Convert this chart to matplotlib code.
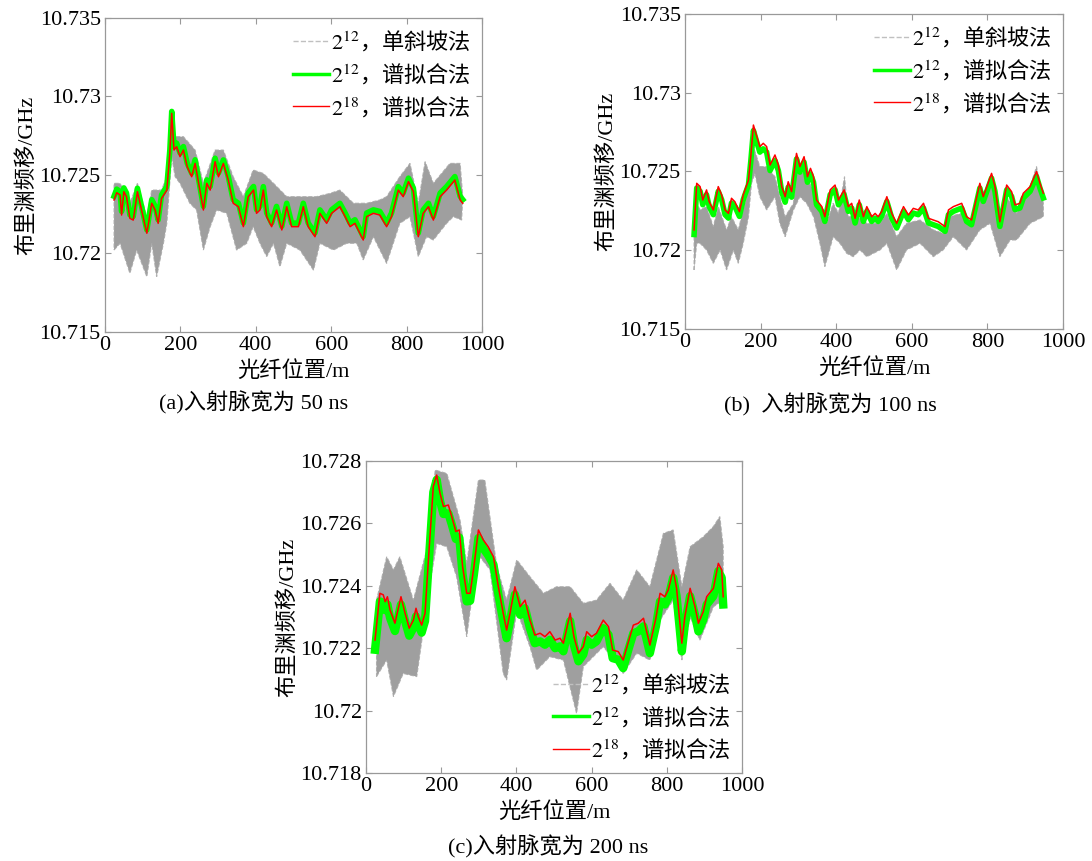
import numpy as np
import matplotlib
matplotlib.use("Agg")
import matplotlib.pyplot as plt
from matplotlib.lines import Line2D

plt.rcParams['font.family'] = ['Liberation Serif', 'Noto Sans CJK SC']
plt.rcParams['mathtext.fontset'] = 'stix'

# ---------------- panel (a): 50 ns ----------------
a_x = [24, 31, 40, 44, 50, 57, 66, 75, 86, 97, 111, 124, 133, 141, 150, 164, 172, 177, 183, 190,
       199, 208, 218, 230, 239, 250, 261, 270, 279, 292, 301, 314, 327, 340, 354, 367, 380, 394, 402, 411,
       420, 429, 442, 455, 469, 482, 495, 513, 526, 539, 557, 570, 588, 601, 623, 637, 650, 663, 685, 694,
       712, 729, 747, 760, 778, 791, 805, 818, 831, 844, 858, 871, 889, 906, 928, 942, 949]
a_red = [10.72341, 10.72387, 10.72373, 10.72245, 10.72394, 10.72362, 10.72224, 10.72213, 10.72394, 10.72277,
         10.72129, 10.72320, 10.72277, 10.72192, 10.72351, 10.72404, 10.72638, 10.72893, 10.72659, 10.72680,
         10.72617, 10.72659, 10.72553, 10.72489, 10.72574, 10.72426, 10.72277, 10.72447, 10.72404, 10.72585,
         10.72489, 10.72574, 10.72468, 10.72320, 10.72298, 10.72171, 10.72362, 10.72404, 10.72256, 10.72277,
         10.72404, 10.72235, 10.72171, 10.72277, 10.72150, 10.72298, 10.72171, 10.72171, 10.72298, 10.72171,
         10.72107, 10.72256, 10.72192, 10.72256, 10.72298, 10.72235, 10.72171, 10.72192, 10.72086, 10.72235,
         10.72256, 10.72245, 10.72171, 10.72235, 10.72404, 10.72362, 10.72458, 10.72394, 10.72107, 10.72256,
         10.72298, 10.72213, 10.72362, 10.72404, 10.72468, 10.72341, 10.72320]
a_green = [10.72365, 10.72410, 10.72395, 10.72268, 10.72418, 10.72385, 10.72246, 10.72236, 10.72416, 10.72300,
           10.72150, 10.72343, 10.72300, 10.72214, 10.72373, 10.72427, 10.72660, 10.72905, 10.72682, 10.72703,
           10.72640, 10.72681, 10.72575, 10.72511, 10.72597, 10.72449, 10.72300, 10.72469, 10.72427, 10.72607,
           10.72512, 10.72596, 10.72490, 10.72343, 10.72320, 10.72194, 10.72385, 10.72427, 10.72279, 10.72300,
           10.72426, 10.72258, 10.72194, 10.72300, 10.72173, 10.72320, 10.72194, 10.72194, 10.72320, 10.72194,
           10.72130, 10.72278, 10.72215, 10.72278, 10.72320, 10.72258, 10.72194, 10.72215, 10.72108, 10.72258,
           10.72278, 10.72268, 10.72194, 10.72258, 10.72426, 10.72385, 10.72480, 10.72416, 10.72130, 10.72278,
           10.72320, 10.72236, 10.72385, 10.72426, 10.72490, 10.72364, 10.72343]
a_lo_x = [24, 40, 66, 84, 111, 124, 137, 155, 164, 177, 186, 199, 225, 243, 261, 279, 296, 323, 349, 376,
          393, 411, 429, 447, 464, 482, 517, 553, 570, 606, 641, 668, 685, 712, 747, 782, 809, 831, 853, 871,
          906, 924, 946]
a_lo = [10.72022, 10.72065, 10.71874, 10.72022, 10.71852, 10.72065, 10.71852, 10.72065, 10.72192, 10.72617,
        10.72489, 10.72447, 10.72320, 10.72277, 10.72022, 10.72171, 10.72277, 10.72256, 10.72022, 10.72065,
        10.72171, 10.72065, 10.71980, 10.72065, 10.71916, 10.72065, 10.72022, 10.71894, 10.72065, 10.72022,
        10.72065, 10.72065, 10.71959, 10.72107, 10.71937, 10.72192, 10.72235, 10.71980, 10.72107, 10.72086,
        10.72192, 10.72235, 10.72213]
a_hi_x = [24, 40, 66, 86, 111, 124, 150, 164, 177, 186, 208, 239, 261, 292, 314, 340, 367, 393, 420, 447,
          482, 517, 561, 597, 623, 659, 694, 729, 747, 782, 809, 831, 849, 871, 915, 942, 949]
a_hi = [10.72447, 10.72447, 10.72320, 10.72447, 10.72235, 10.72404, 10.72404, 10.72489, 10.72914, 10.72744,
        10.72744, 10.72659, 10.72447, 10.72659, 10.72659, 10.72489, 10.72362, 10.72532, 10.72510, 10.72447,
        10.72362, 10.72362, 10.72362, 10.72383, 10.72404, 10.72320, 10.72320, 10.72341, 10.72362, 10.72489,
        10.72574, 10.72320, 10.72585, 10.72447, 10.72574, 10.72574, 10.72362]

# ---------------- panel (b): 100 ns ----------------
b_x = [24, 31, 40, 47, 57, 64, 75, 88, 97, 106, 115, 123, 132, 144, 154, 168, 174, 181, 190, 198,
       207, 216, 225, 238, 247, 256, 265, 273, 282, 295, 304, 315, 324, 332, 340, 348, 362, 370, 384, 397,
       406, 421, 432, 441, 450, 461, 472, 481, 494, 503, 511, 520, 534, 547, 560, 578, 591, 604, 617, 631,
       644, 657, 670, 688, 697, 710, 732, 745, 758, 780, 789, 811, 820, 833, 851, 864, 873, 886, 895, 913,
       930, 939, 948]
b_red = [10.72129, 10.72425, 10.72404, 10.72319, 10.72383, 10.72308, 10.72256, 10.72404, 10.72351, 10.72256,
         10.72234, 10.72330, 10.72308, 10.72245, 10.72351, 10.72446, 10.72594, 10.72795, 10.72721, 10.72658,
         10.72679, 10.72658, 10.72541, 10.72605, 10.72541, 10.72404, 10.72340, 10.72435, 10.72372, 10.72615,
         10.72531, 10.72594, 10.72467, 10.72520, 10.72467, 10.72319, 10.72277, 10.72213, 10.72383, 10.72414,
         10.72319, 10.72383, 10.72277, 10.72298, 10.72203, 10.72319, 10.72213, 10.72277, 10.72213, 10.72234,
         10.72213, 10.72245, 10.72340, 10.72234, 10.72171, 10.72277, 10.72224, 10.72266, 10.72256, 10.72298,
         10.72203, 10.72192, 10.72181, 10.72150, 10.72256, 10.72277, 10.72298, 10.72213, 10.72192, 10.72425,
         10.72340, 10.72488, 10.72404, 10.72181, 10.72414, 10.72372, 10.72288, 10.72298, 10.72362, 10.72404,
         10.72499, 10.72425, 10.72362]
b_green = [10.72100, 10.72395, 10.72374, 10.72289, 10.72353, 10.72278, 10.72226, 10.72374, 10.72321, 10.72226,
           10.72204, 10.72300, 10.72278, 10.72215, 10.72321, 10.72416, 10.72564, 10.72760, 10.72686, 10.72623,
           10.72644, 10.72623, 10.72506, 10.72570, 10.72506, 10.72369, 10.72305, 10.72400, 10.72337, 10.72580,
           10.72496, 10.72559, 10.72432, 10.72485, 10.72432, 10.72289, 10.72247, 10.72183, 10.72353, 10.72384,
           10.72289, 10.72353, 10.72247, 10.72268, 10.72173, 10.72289, 10.72183, 10.72247, 10.72183, 10.72204,
           10.72183, 10.72215, 10.72310, 10.72204, 10.72141, 10.72247, 10.72194, 10.72236, 10.72226, 10.72268,
           10.72173, 10.72162, 10.72151, 10.72120, 10.72226, 10.72247, 10.72268, 10.72183, 10.72162, 10.72395,
           10.72310, 10.72458, 10.72374, 10.72151, 10.72384, 10.72342, 10.72258, 10.72268, 10.72332, 10.72374,
           10.72469, 10.72395, 10.72332]
b_lo_x = [24, 31, 40, 57, 75, 93, 110, 128, 141, 154, 168, 176, 185, 198, 216, 238, 251, 265, 287, 304,
          322, 340, 357, 370, 392, 410, 428, 445, 463, 481, 516, 534, 560, 586, 622, 657, 683, 710, 745, 780,
          807, 833, 860, 877, 913, 948]
b_lo = [10.71875, 10.72044, 10.72044, 10.72002, 10.71917, 10.72002, 10.71875, 10.72002, 10.71917, 10.72044,
        10.72213, 10.72425, 10.72488, 10.72340, 10.72256, 10.72340, 10.72171, 10.72086, 10.72256, 10.72340,
        10.72298, 10.72213, 10.72044, 10.71896, 10.72086, 10.72044, 10.71980, 10.71959, 10.72002, 10.71959,
        10.72002, 10.72044, 10.71875, 10.72002, 10.72044, 10.71959, 10.72002, 10.72086, 10.72002, 10.72129,
        10.72171, 10.71959, 10.72065, 10.72065, 10.72171, 10.72213]
b_hi_x = [24, 31, 40, 57, 75, 88, 110, 123, 141, 154, 168, 181, 198, 216, 238, 251, 265, 287, 295, 315,
          340, 357, 375, 392, 406, 422, 432, 454, 481, 516, 534, 560, 586, 622, 657, 683, 697, 732, 754, 780,
          811, 833, 851, 877, 904, 930, 948]
b_hi = [10.72171, 10.72298, 10.72256, 10.72277, 10.72150, 10.72277, 10.72129, 10.72213, 10.72129, 10.72256,
        10.72383, 10.72658, 10.72531, 10.72531, 10.72467, 10.72340, 10.72213, 10.72298, 10.72510, 10.72488,
        10.72383, 10.72256, 10.72171, 10.72298, 10.72234, 10.72467, 10.72213, 10.72213, 10.72171, 10.72171,
        10.72234, 10.72086, 10.72171, 10.72192, 10.72129, 10.72107, 10.72213, 10.72234, 10.72150, 10.72340,
        10.72425, 10.72129, 10.72340, 10.72234, 10.72340, 10.72531, 10.72298]

# ---------------- panel (c): 200 ns ----------------
c_x = [24, 37, 46, 51, 57, 64, 77, 93, 104, 115, 126, 133, 139, 148, 157, 166, 179, 188, 197, 206,
       219, 228, 239, 248, 257, 268, 277, 287, 299, 312, 325, 339, 352, 365, 374, 383, 396, 410, 423, 436,
       449, 463, 476, 489, 503, 516, 525, 543, 553, 565, 578, 587, 600, 613, 631, 645, 656, 671, 684, 698,
       711, 724, 738, 755, 771, 782, 795, 804, 817, 826, 840, 848, 862, 875, 884, 897, 906, 924, 937, 946,
       950]
c_red = [10.72226, 10.72376, 10.72371, 10.72349, 10.72365, 10.72322, 10.72280, 10.72365, 10.72312, 10.72264,
         10.72290, 10.72328, 10.72301, 10.72274, 10.72312, 10.72483, 10.72718, 10.72755, 10.72696, 10.72654,
         10.72659, 10.72622, 10.72574, 10.72579, 10.72461, 10.72376, 10.72376, 10.72461, 10.72579, 10.72547,
         10.72525, 10.72493, 10.72397, 10.72312, 10.72258, 10.72312, 10.72397, 10.72333, 10.72354, 10.72290,
         10.72242, 10.72248, 10.72237, 10.72253, 10.72226, 10.72232, 10.72216, 10.72312, 10.72237, 10.72184,
         10.72205, 10.72253, 10.72237, 10.72248, 10.72290, 10.72269, 10.72194, 10.72189, 10.72162, 10.72221,
         10.72274, 10.72280, 10.72296, 10.72210, 10.72296, 10.72376, 10.72365, 10.72387, 10.72451, 10.72392,
         10.72216, 10.72301, 10.72392, 10.72333, 10.72280, 10.72317, 10.72365, 10.72392, 10.72472, 10.72451,
         10.72365]
c_green = [10.72195, 10.72350, 10.72345, 10.72322, 10.72340, 10.72297, 10.72255, 10.72340, 10.72287, 10.72240,
           10.72265, 10.72302, 10.72276, 10.72250, 10.72287, 10.72460, 10.72700, 10.72740, 10.72672, 10.72630,
           10.72632, 10.72597, 10.72550, 10.72555, 10.72436, 10.72350, 10.72352, 10.72436, 10.72553, 10.72520,
           10.72498, 10.72468, 10.72372, 10.72287, 10.72232, 10.72286, 10.72372, 10.72307, 10.72328, 10.72264,
           10.72216, 10.72222, 10.72211, 10.72227, 10.72200, 10.72206, 10.72190, 10.72287, 10.72210, 10.72158,
           10.72180, 10.72227, 10.72211, 10.72222, 10.72264, 10.72243, 10.72168, 10.72163, 10.72136, 10.72196,
           10.72248, 10.72254, 10.72270, 10.72184, 10.72270, 10.72350, 10.72340, 10.72362, 10.72426, 10.72367,
           10.72190, 10.72276, 10.72367, 10.72307, 10.72254, 10.72292, 10.72340, 10.72367, 10.72447, 10.72426,
           10.72340]
c_lo_x = [28, 55, 73, 99, 135, 166, 188, 215, 241, 268, 277, 303, 330, 365, 374, 401, 436, 454, 489, 525,
          560, 578, 631, 667, 684, 720, 755, 782, 817, 840, 862, 888, 924, 950]
c_lo = [10.72109, 10.72162, 10.72045, 10.72119, 10.72109, 10.72376, 10.72536, 10.72525, 10.72429, 10.72237,
        10.72322, 10.72493, 10.72451, 10.72119, 10.72098, 10.72322, 10.72205, 10.72130, 10.72173, 10.72162,
        10.71991, 10.72141, 10.72205, 10.72152, 10.72119, 10.72184, 10.72162, 10.72290, 10.72354, 10.72162,
        10.72301, 10.72226, 10.72333, 10.72354]
c_hi_x = [28, 55, 73, 90, 126, 166, 184, 215, 250, 268, 299, 316, 348, 374, 401, 436, 472, 507, 543, 578,
          613, 649, 684, 720, 755, 791, 817, 840, 862, 897, 924, 941, 950]
c_hi = [10.72354, 10.72493, 10.72451, 10.72493, 10.72354, 10.72536, 10.72771, 10.72760, 10.72611, 10.72472,
        10.72739, 10.72739, 10.72461, 10.72354, 10.72483, 10.72429, 10.72376, 10.72397, 10.72397, 10.72344,
        10.72354, 10.72408, 10.72354, 10.72451, 10.72397, 10.72568, 10.72579, 10.72397, 10.72525, 10.72557,
        10.72590, 10.72622, 10.72525]

a_yticks = [10.715, 10.72, 10.725, 10.73, 10.735]
a_ylabels = ['10.715', '10.72', '10.725', '10.73', '10.735']
c_yticks = [10.718, 10.72, 10.722, 10.724, 10.726, 10.728]
c_ylabels = ['10.718', '10.72', '10.722', '10.724', '10.726', '10.728']
x_ticks = [0, 200, 400, 600, 800, 1000]

labels = [r'$2^{12}$，单斜坡法', r'$2^{12}$，谱拟合法', r'$2^{18}$，谱拟合法']
GRAY = '#8e8e8e'
GREEN = '#00ff00'
RED = '#ff0000'
FS = 16


def draw_panel(ax, x, red, green, lo_x, lo, hi_x, hi, yticks, ylabels, green_lw, legend_loc):
    # gray band of the single-slope traces, outlined by its lower and upper envelopes
    poly_x = list(lo_x) + list(hi_x[::-1])
    poly_y = list(lo) + list(hi[::-1])
    ax.fill(poly_x, poly_y, facecolor=GRAY, edgecolor='#a8a8a8', lw=0.8, ls='--', alpha=0.85)
    ax.plot(x, green, color=GREEN, lw=green_lw, solid_joinstyle='round')
    ax.plot(x, red, color=RED, lw=1.1)
    ax.set_xlim(0, 1000)
    ax.set_ylim(yticks[0], yticks[-1])
    ax.set_xticks(x_ticks)
    ax.set_xticklabels([str(t) for t in x_ticks])
    ax.set_yticks(yticks)
    ax.set_yticklabels(ylabels)
    ax.tick_params(direction='in', top=True, right=True, length=4, width=0.8,
                   color='#999999', labelsize=FS, pad=3)
    for s in ax.spines.values():
        s.set_color('#999999')
        s.set_linewidth(0.9)
    ax.set_xlabel('光纤位置/m', fontsize=FS, labelpad=4)
    ax.set_ylabel('布里渊频移/GHz', fontsize=FS, labelpad=2)
    handles = [Line2D([], [], color='#c0c0c0', lw=1.0, ls='--'),
               Line2D([], [], color=GREEN, lw=2.5),
               Line2D([], [], color=RED, lw=1.0)]
    ax.legend(handles, labels, loc=legend_loc, frameon=False, handlelength=1.6,
              handletextpad=0.1, labelspacing=0.35, borderaxespad=0.1,
              prop={'family': 'Noto Sans CJK SC', 'size': FS})


fig = plt.figure(figsize=(10.92, 8.61), dpi=100)
W, H = 1092.0, 861.0

ax_a = fig.add_axes([105 / W, 1 - 332 / H, 377 / W, 314 / H])
draw_panel(ax_a, a_x, a_red, a_green, a_lo_x, a_lo, a_hi_x, a_hi, a_yticks, a_ylabels, 4, 'upper right')

ax_b = fig.add_axes([685 / W, 1 - 329 / H, 378 / W, 315 / H])
draw_panel(ax_b, b_x, b_red, b_green, b_lo_x, b_lo, b_hi_x, b_hi, a_yticks, a_ylabels, 4, 'upper right')

ax_c = fig.add_axes([366 / W, 1 - 773 / H, 376 / W, 312 / H])
draw_panel(ax_c, c_x, c_red, c_green, c_lo_x, c_lo, c_hi_x, c_hi, c_yticks, c_ylabels, 6, 'lower right')

fig.text(254 / W, 1 - 403 / H, '(a)入射脉宽为 50 ns', ha='center', va='center', fontsize=FS)
fig.text(830 / W, 1 - 405 / H, '(b)  入射脉宽为 100 ns', ha='center', va='center', fontsize=FS)
fig.text(548 / W, 1 - 847 / H, '(c)入射脉宽为 200 ns', ha='center', va='center', fontsize=FS)

fig.savefig('out.png', dpi=100)
